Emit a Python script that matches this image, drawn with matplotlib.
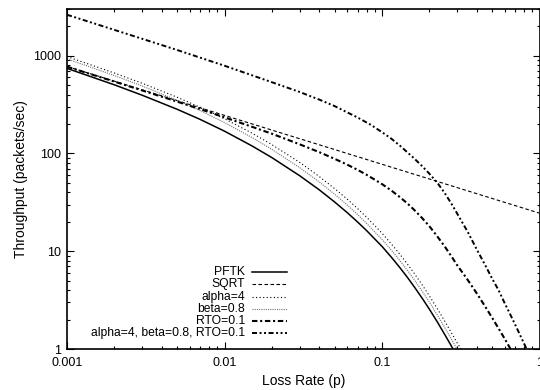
import matplotlib
matplotlib.use('Agg')
import matplotlib.pyplot as plt
import matplotlib as mpl
from matplotlib.lines import Line2D
from matplotlib.ticker import FixedLocator, FuncFormatter, LogLocator, NullFormatter

# loss rate grid used for the PFTK family of curves
p_low = [0.001, 0.002, 0.003, 0.005, 0.007, 0.01, 0.015, 0.02, 0.03, 0.04,
         0.05, 0.06, 0.07, 0.08, 0.1, 0.115, 0.13, 0.145, 0.16, 0.18,
         0.2, 0.225, 0.25, 0.275, 0.3, 0.35]
pftk = [741, 503, 394, 283, 223, 169, 119, 90.6, 59.2, 42.4,
        31.9, 24.9, 19.9, 16.2, 11.2, 8.64, 6.78, 5.40, 4.34, 3.30,
        2.55, 1.88, 1.41, 1.08, 0.843, 0.573]
alpha4 = [978, 664, 522, 376, 297, 226, 161, 123, 81.1, 58.0,
          43.7, 34.2, 27.3, 22.2, 15.3, 11.8, 9.29, 7.40, 5.95, 4.52,
          3.49, 2.57, 1.93, 1.48, 1.155, 0.785]
beta08 = [926, 626, 489, 350, 274, 207, 145, 110, 71.6, 51.0,
          38.3, 29.8, 23.7, 19.2, 13.2, 10.2, 8.0, 6.37, 5.12, 3.89,
          3.01, 2.21, 1.66, 1.27, 0.995, 0.676]

p_sqrt = [0.001, 0.01, 0.1, 1.0]
sqrt_model = [775, 245, 77.5, 24.5]

p_rto = [0.001, 0.002, 0.003, 0.005, 0.007, 0.01, 0.015, 0.02, 0.03, 0.04,
         0.05, 0.06, 0.07, 0.08, 0.1, 0.115, 0.13, 0.145, 0.16, 0.18,
         0.2, 0.225, 0.25, 0.275, 0.3, 0.35, 0.4, 0.45, 0.5, 0.55,
         0.6, 0.65, 0.7]
rto01 = [771, 543, 441, 339, 284, 234, 187, 159, 124, 103,
         88.1, 76.9, 67.9, 60.4, 48.6, 41.6, 35.7, 30.8, 26.5, 21.8,
         18.0, 14.1, 11.2, 8.93, 7.21, 5.09, 3.70, 2.75, 2.09, 1.62,
         1.28, 1.02, 0.832]

p_all = [0.001, 0.002, 0.005, 0.01, 0.02, 0.03, 0.04, 0.05, 0.07, 0.085,
         0.1, 0.115, 0.13, 0.16, 0.18, 0.2, 0.225, 0.25, 0.275, 0.3,
         0.35, 0.4, 0.45, 0.5, 0.55, 0.6, 0.65, 0.7, 0.81, 0.9]
all_three = [2620, 1834, 1143, 789, 535, 425, 355, 305, 233, 196,
             165, 141, 120, 89, 74, 62, 49.9, 39.4, 30.9, 24.3,
             15.8, 10.4, 7.3, 5.26, 3.99, 2.96, 2.28, 1.78, 1.08, 0.76]

x_ticks = [0.001, 0.01, 0.1, 1]
y_ticks = [1, 10, 100, 1000]

mpl.rcParams['font.family'] = ['Liberation Sans', 'DejaVu Sans']

fig = plt.figure(figsize=(5.4, 3.9), dpi=100)
ax = fig.add_axes([67 / 540, 1 - 349 / 390, 472.5 / 540, 340 / 390])

styles = [
    dict(color='black', lw=1.1, linestyle='-'),
    dict(color='black', lw=0.8, linestyle=(0, (3.2, 2.2))),
    dict(color='black', lw=0.8, linestyle=(0, (1.0, 2.2))),
    dict(color='0.45', lw=0.8, linestyle=(0, (1.0, 1.0))),
    dict(color='black', lw=1.5, linestyle=(0, (2.6, 1.3, 1.0, 1.3))),
    dict(color='black', lw=1.4, linestyle=(0, (2.6, 1.3, 1.0, 1.3, 1.0, 1.3))),
]
labels = ['PFTK', 'SQRT', 'alpha=4', 'beta=0.8', 'RTO=0.1', 'alpha=4, beta=0.8, RTO=0.1']

ax.plot(p_low, pftk, **styles[0])
ax.plot(p_sqrt, sqrt_model, **styles[1])
ax.plot(p_low, alpha4, **styles[2])
ax.plot(p_low, beta08, **styles[3])
ax.plot(p_rto, rto01, **styles[4])
ax.plot(p_all, all_three, **styles[5])

ax.set_xscale('log')
ax.set_yscale('log')
ax.set_xlim(0.001, 1)
ax.set_ylim(1, 3000)

ax.xaxis.set_major_locator(FixedLocator(x_ticks))
ax.yaxis.set_major_locator(FixedLocator(y_ticks))
ax.xaxis.set_minor_locator(LogLocator(base=10, subs=range(2, 10)))
ax.yaxis.set_minor_locator(LogLocator(base=10, subs=range(2, 10)))
ax.xaxis.set_major_formatter(FuncFormatter(lambda v, pos: '%g' % v))
ax.yaxis.set_major_formatter(FuncFormatter(lambda v, pos: '%g' % v))
ax.xaxis.set_minor_formatter(NullFormatter())
ax.yaxis.set_minor_formatter(NullFormatter())

ax.tick_params(which='both', direction='in', top=True, right=True, labelsize=9, width=0.8)
ax.tick_params(which='major', length=5)
ax.tick_params(which='minor', length=2.5)
ax.tick_params(axis='x', which='major', pad=6)
ax.tick_params(axis='y', which='major', pad=4)
for s in ax.spines.values():
    s.set_linewidth(1.2)

ax.set_xlabel('Loss Rate (p)', fontsize=10, labelpad=3)
ax.set_ylabel('Throughput (packets/sec)', fontsize=10, labelpad=4)

# gnuplot-style key: right-aligned text, sample line after it
key_top = 0.2256
key_step = 0.0358
for i, (lab, st) in enumerate(zip(labels, styles)):
    y = key_top - i * key_step
    ax.text(0.377, y, lab, transform=ax.transAxes, ha='right', va='center', fontsize=8.7)
    ax.add_line(Line2D([0.392, 0.466], [y, y], transform=ax.transAxes, **st))

fig.savefig('out.png', dpi=100)
